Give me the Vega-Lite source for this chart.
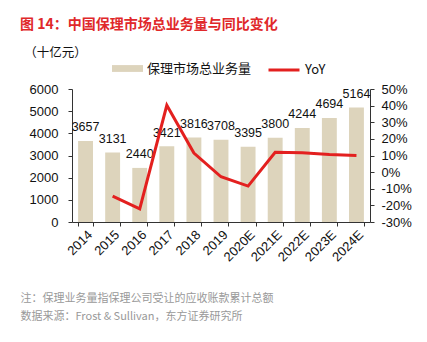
{
  "$schema": "https://vega.github.io/schema/vega-lite/v6.json",
  "width": 298,
  "height": 133,
  "autosize": "none",
  "padding": {"left": 72, "top": 89, "right": 57, "bottom": 120},
  "background": "white",
  "config": {
    "view": {"stroke": null},
    "font": "Liberation Sans, Noto Sans CJK SC",
    "axis": {"labelFont": "Liberation Sans, Noto Sans CJK SC", "titleFont": "Noto Sans CJK SC, Liberation Sans"},
    "legend": {"labelFont": "Noto Sans CJK SC, Liberation Sans"}
  },
  "title": {
    "text": "图 14：中国保理市场总业务量与同比变化",
    "anchor": "start",
    "frame": "group",
    "dx": -52,
    "offset": 14,
    "font": "Noto Sans CJK SC, Liberation Sans",
    "fontSize": 14,
    "fontWeight": "bold",
    "color": "#e0282a"
  },
  "data": {
    "values": [
      {"year": "2014", "volume": 3657, "yoy": null},
      {"year": "2015", "volume": 3131, "yoy": -0.144},
      {"year": "2016", "volume": 2440, "yoy": -0.221},
      {"year": "2017", "volume": 3421, "yoy": 0.402},
      {"year": "2018", "volume": 3816, "yoy": 0.115},
      {"year": "2019", "volume": 3708, "yoy": -0.028},
      {"year": "2020E", "volume": 3395, "yoy": -0.084},
      {"year": "2021E", "volume": 3800, "yoy": 0.119},
      {"year": "2022E", "volume": 4244, "yoy": 0.117},
      {"year": "2023E", "volume": 4694, "yoy": 0.106},
      {"year": "2024E", "volume": 5164, "yoy": 0.100}
    ]
  },
  "encoding": {
    "x": {
      "field": "year",
      "type": "ordinal",
      "sort": null,
      "scale": {"paddingInner": 0.45, "paddingOuter": 0.225},
      "axis": {
        "labelAngle": -45,
        "labelFontSize": 13,
        "labelColor": "#111",
        "domainColor": "#333",
        "tickColor": "#333",
        "tickSize": 4,
        "tickBand": "extent",
        "labelPadding": 2,
        "title": ["注：保理业务量指保理公司受让的应收账款累计总额", "数据来源：Frost & Sullivan，东方证券研究所"],
        "titleAnchor": "start",
        "titleAlign": "left",
        "titleBaseline": "middle",
        "titleX": -52,
        "titleY": 76,
        "titleFontSize": 11,
        "titleFontWeight": "normal",
        "titleColor": "#999",
        "titleLineHeight": 18.5
      }
    }
  },
  "layer": [
    {
      "encoding": {
        "y": {
          "field": "volume",
          "type": "quantitative",
          "scale": {"domain": [0, 6000]},
          "axis": {
            "orient": "left",
            "values": [0, 1000, 2000, 3000, 4000, 5000, 6000],
            "format": "d",
            "grid": false,
            "labelFontSize": 13,
            "labelColor": "#111",
            "domainColor": "#333",
            "tickColor": "#333",
            "tickSize": 4,
            "labelPadding": 10,
            "title": "（十亿元）",
            "titleAngle": 0,
            "titleAlign": "center",
            "titleBaseline": "middle",
            "titleX": -17,
            "titleY": -37,
            "titleFontSize": 12.5,
            "titleFontWeight": "normal",
            "titleColor": "#111"
          }
        }
      },
      "layer": [
        {
          "mark": {"type": "bar"},
          "encoding": {
            "fill": {
              "datum": "保理市场总业务量",
              "scale": {"range": ["#ddd4bc"]},
              "legend": {
                "orient": "none",
                "legendX": 40,
                "legendY": -36,
                "title": null,
                "symbolType": "M-1,-0.22H1V0.22H-1Z",
                "symbolSize": 961,
                "symbolStrokeWidth": 0,
                "labelFontSize": 13,
                "labelColor": "#111",
                "labelOffset": 4,
                "padding": 0
              }
            }
          }
        },
        {
          "mark": {"type": "text", "baseline": "alphabetic", "dy": -9.5, "fontSize": 12.5, "color": "#111"},
          "encoding": {
            "text": {"field": "volume", "type": "quantitative", "format": "d"}
          }
        }
      ]
    },
    {
      "transform": [{"filter": "datum.yoy != null"}],
      "mark": {"type": "line", "strokeWidth": 3},
      "encoding": {
        "y": {
          "field": "yoy",
          "type": "quantitative",
          "scale": {"domain": [-0.3, 0.5]},
          "axis": {
            "orient": "right",
            "values": [-0.3, -0.2, -0.1, 0, 0.1, 0.2, 0.3, 0.4, 0.5],
            "labelExpr": "round(datum.value*100) + '%'",
            "grid": false,
            "labelFontSize": 13,
            "labelColor": "#111",
            "domainColor": "#333",
            "tickColor": "#333",
            "tickSize": 4,
            "labelPadding": 7,
            "title": null
          }
        },
        "stroke": {
          "datum": "YoY",
          "scale": {"range": ["#e3201f"]},
          "legend": {
            "orient": "none",
            "legendX": 195,
            "legendY": -36,
            "title": null,
            "symbolType": "stroke",
            "symbolSize": 961,
            "symbolStrokeWidth": 3,
            "labelFontSize": 13,
            "labelColor": "#111",
            "labelOffset": 4,
            "padding": 0
          }
        }
      }
    }
  ],
  "resolve": {"scale": {"y": "independent"}}
}
